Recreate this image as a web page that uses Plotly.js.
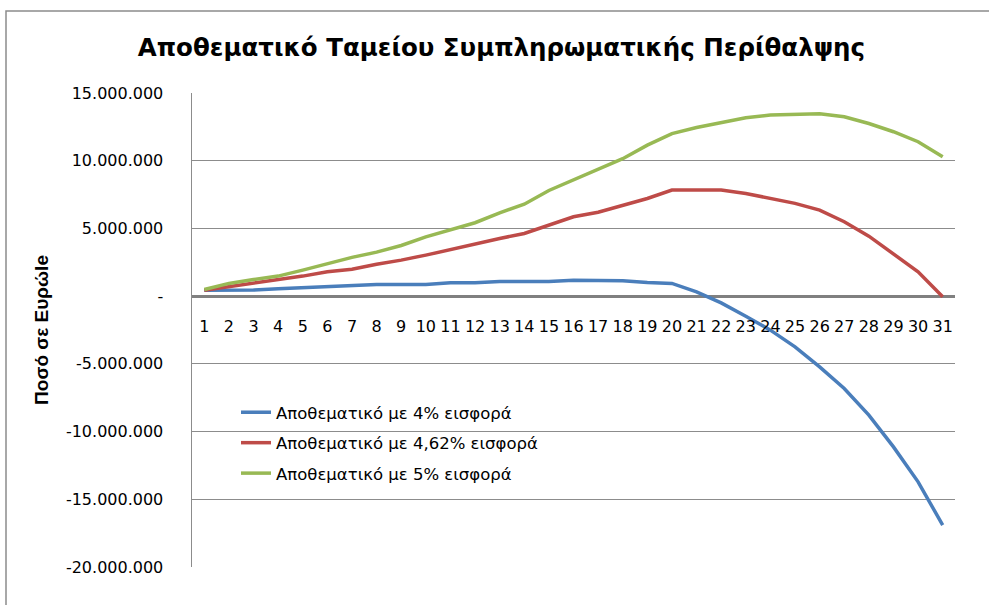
<!DOCTYPE html>
<html>
<head>
<meta charset="utf-8">
<script src="https://cdn.plot.ly/plotly-3.0.1.min.js"></script>
<style>html,body{margin:0;padding:0;background:#fff;}#chart{width:989px;height:605px;}</style>
</head>
<body>
<div id="chart"></div>
<script>
const years = [1,2,3,4,5,6,7,8,9,10,11,12,13,14,15,16,17,18,19,20,21,22,23,24,25,26,27,28,29,30,31];
const reserve4 = [440000,440000,450000,540000,610000,710000,740000,860000,860000,860000,980000,980000,1080000,1080000,1080000,1180000,1180000,1130000,1010000,940000,320000,-500000,-1480000,-2510000,-3740000,-5220000,-6820000,-8790000,-11130000,-13710000,-16910000];
const reserve462 = [440000,690000,940000,1230000,1480000,1800000,1990000,2360000,2660000,3030000,3450000,3890000,4260000,4630000,5240000,5860000,6200000,6720000,7210000,7830000,7830000,7830000,7580000,7210000,6850000,6350000,5490000,4430000,3150000,1800000,-50000];
const reserve5 = [490000,940000,1230000,1480000,1920000,2410000,2860000,3250000,3740000,4380000,4920000,5420000,6150000,6790000,7800000,8580000,9350000,10150000,11150000,12000000,12450000,12830000,13170000,13370000,13440000,13470000,13250000,12750000,12140000,11400000,10290000];
const seriesNames = ["Αποθεματικό με 4% εισφορά","Αποθεματικό με 4,62% εισφορά","Αποθεματικό με 5% εισφορά"];
const yTickVals = [15000000,10000000,5000000,0,-5000000,-10000000,-15000000,-20000000];
const yTickText = ["15.000.000","10.000.000","5.000.000","-","-5.000.000","-10.000.000","-15.000.000","-20.000.000"];
const titleText = "Αποθεματικό Ταμείου Συμπληρωματικής Περίθαλψης";
const yTitleText = "Ποσό σε Ευρώle";

const colors = ["#4a7ebb","#be4b48","#98b954"];
const seriesData = [reserve4, reserve462, reserve5];
const traces = seriesData.map((vals,i)=>({
  x: years, y: vals, type:'scatter', mode:'lines', name: seriesNames[i],
  legendgroup: 'g'+i,
  line:{color:colors[i], width:3.5, shape:'linear'}
}));

const L=192, R=955, T=93, B=567, W=989, H=605;
const pw=R-L, ph=B-T;
const layout = {
  width:W, height:H,
  margin:{l:L, r:W-R, t:T, b:H-B, pad:0},
  paper_bgcolor:'#fff', plot_bgcolor:'#fff',
  title:{text:titleText, font:{family:'DejaVu Sans', size:24.5, color:'#000', weight:'bold'}, x:0.507, xref:'container', y:1-47/H, yref:'container', yanchor:'middle'},
  showlegend:true,
  legend:{x:(236-L)/pw, y:(B-395)/ph, xanchor:'left', yanchor:'top', bgcolor:'rgba(0,0,0,0)', font:{family:'DejaVu Sans', size:16.5, color:'#000'}, tracegroupgap:6, traceorder:'grouped'},
  xaxis:{range:[0.5,31.5], tickvals:years, ticktext:years.map(String), anchor:'free', position:20/35,
    showgrid:false, zeroline:false, showline:false, ticks:'', ticklabelstandoff:19,
    tickfont:{family:'DejaVu Sans', size:16, color:'#000'}, fixedrange:true},
  yaxis:{range:[-20000000,15000000], tickvals:yTickVals, ticktext:yTickText,
    showgrid:true, gridcolor:'#8c8c8c', gridwidth:1,
    zeroline:true, zerolinecolor:'#808080', zerolinewidth:3,
    showline:true, linecolor:'#8c8c8c', linewidth:1.5,
    ticks:'', ticklabelstandoff:24,
    tickfont:{family:'DejaVu Sans', size:16, color:'#000'},
    title:{text:yTitleText, font:{family:'Liberation Sans', size:19, color:'#000', weight:'bold'}, standoff:12}},
  shapes:[{type:'rect', xref:'paper', yref:'paper', x0:(6-L)/pw, x1:(1000-L)/pw, y0:(B-620)/ph, y1:(B-11)/ph, line:{color:'#8c8c8c', width:1.5}, layer:'below'}]
};
Plotly.newPlot('chart', traces, layout, {displayModeBar:false, staticPlot:true});
</script>
</body>
</html>
